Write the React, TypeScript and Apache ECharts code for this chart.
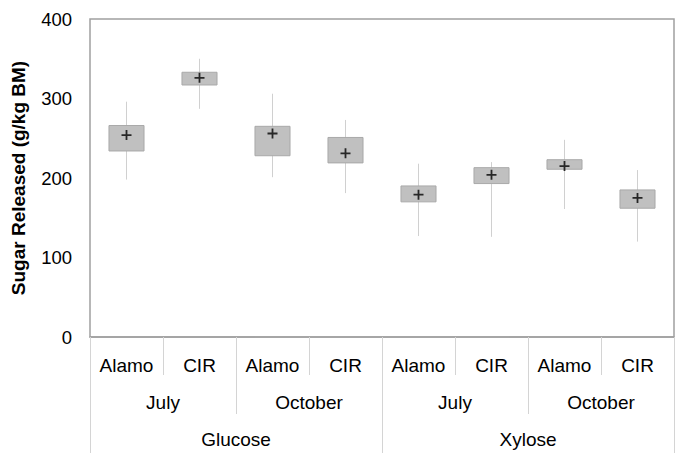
import React, { useEffect, useRef } from "react";
import * as echarts from "echarts";

const cultivars = ["Alamo", "CIR", "Alamo", "CIR", "Alamo", "CIR", "Alamo", "CIR"];
const months = ["July", "October", "July", "October"];
const sugars = ["Glucose", "Xylose"];

// whiskers and boxes per cultivar/month/sugar
const whiskerLow = [198, 287, 201, 181, 127, 126, 161, 120];
const boxLow = [234, 317, 228, 219, 170, 193, 211, 162];
const boxHigh = [266, 333, 265, 251, 190, 213, 223, 185];
const whiskerHigh = [296, 350, 306, 273, 218, 220, 248, 210];
const means = [254, 326, 256, 231, 179, 204, 215, 175];

const yTicks = [0, 100, 200, 300, 400];

const FONT = "'Liberation Sans', Arial, sans-serif";

export default function App() {
  const ref = useRef<HTMLDivElement>(null);
  useEffect(() => {
    if (!ref.current) return;
    const chart = echarts.init(ref.current, undefined, { renderer: "svg" });
    const boxData = cultivars.map((_, i) => [i, whiskerLow[i], boxLow[i], boxHigh[i], whiskerHigh[i]]);
    const meanData = cultivars.map((_, i) => [i, means[i]]);
    const tickStyle = { show: true, lineStyle: { color: "#d4d4d4", width: 1 } };
    const labelStyle = { color: "#000", fontSize: 19, fontFamily: FONT };
    chart.setOption({
      animation: false,
      backgroundColor: "#fff",
      grid: {
        left: 90,
        right: 11,
        top: 19,
        bottom: 125,
        show: true,
        borderColor: "#a0a0a0",
        borderWidth: 1.5,
        backgroundColor: "transparent",
      },
      xAxis: [
        {
          type: "category",
          data: cultivars,
          boundaryGap: true,
          axisLine: { show: true, lineStyle: { color: "#a0a0a0", width: 1.5 } },
          axisTick: { ...tickStyle, length: 38 },
          axisLabel: { ...labelStyle, margin: 19, interval: 0 },
        },
        {
          type: "category",
          data: months,
          position: "bottom",
          boundaryGap: true,
          axisLine: { show: false },
          axisTick: { ...tickStyle, length: 77 },
          axisLabel: { ...labelStyle, margin: 56, interval: 0 },
        },
        {
          type: "category",
          data: sugars,
          position: "bottom",
          boundaryGap: true,
          axisLine: { show: false },
          axisTick: { ...tickStyle, length: 116 },
          axisLabel: { ...labelStyle, margin: 93, interval: 0 },
        },
      ],
      yAxis: {
        type: "value",
        min: yTicks[0],
        max: yTicks[yTicks.length - 1],
        interval: 100,
        axisLine: { show: false },
        axisTick: { show: false },
        splitLine: { show: false },
        axisLabel: { ...labelStyle, fontSize: 18.5, margin: 18 },
        name: "Sugar Released (g/kg BM)",
        nameLocation: "middle",
        nameGap: 62,
        nameTextStyle: { color: "#000", fontSize: 19, fontWeight: "bold", fontFamily: FONT },
      },
      series: [
        {
          type: "custom",
          xAxisIndex: 0,
          data: boxData,
          encode: { x: 0, y: [1, 2, 3, 4] },
          renderItem: (params: any, api: any) => {
            const x = api.value(0);
            const lo = api.coord([x, api.value(1)]);
            const q1 = api.coord([x, api.value(2)]);
            const q3 = api.coord([x, api.value(3)]);
            const hi = api.coord([x, api.value(4)]);
            const w = api.size([1, 0])[0] * 0.48;
            return {
              type: "group",
              children: [
                {
                  type: "line",
                  shape: { x1: lo[0], y1: lo[1], x2: hi[0], y2: hi[1] },
                  style: { stroke: "#d0d0d0", lineWidth: 1 },
                },
                {
                  type: "rect",
                  shape: { x: q3[0] - w / 2, y: q3[1], width: w, height: q1[1] - q3[1] },
                  style: { fill: "#c0c0c0", stroke: "#a9a9a9", lineWidth: 1 },
                },
              ],
            };
          },
          z: 2,
        },
        {
          type: "scatter",
          xAxisIndex: 0,
          data: meanData,
          symbol: "path://M4.1,0H5.9V4.1H10V5.9H5.9V10H4.1V5.9H0V4.1H4.1Z",
          symbolSize: 10,
          itemStyle: { color: "#000" },
          z: 3,
        },
      ],
    });
    return () => chart.dispose();
  }, []);
  return (
    <div
      ref={ref}
      style={{ position: "fixed", left: 0, top: 0, width: 685, height: 462 }}
    />
  );
}
